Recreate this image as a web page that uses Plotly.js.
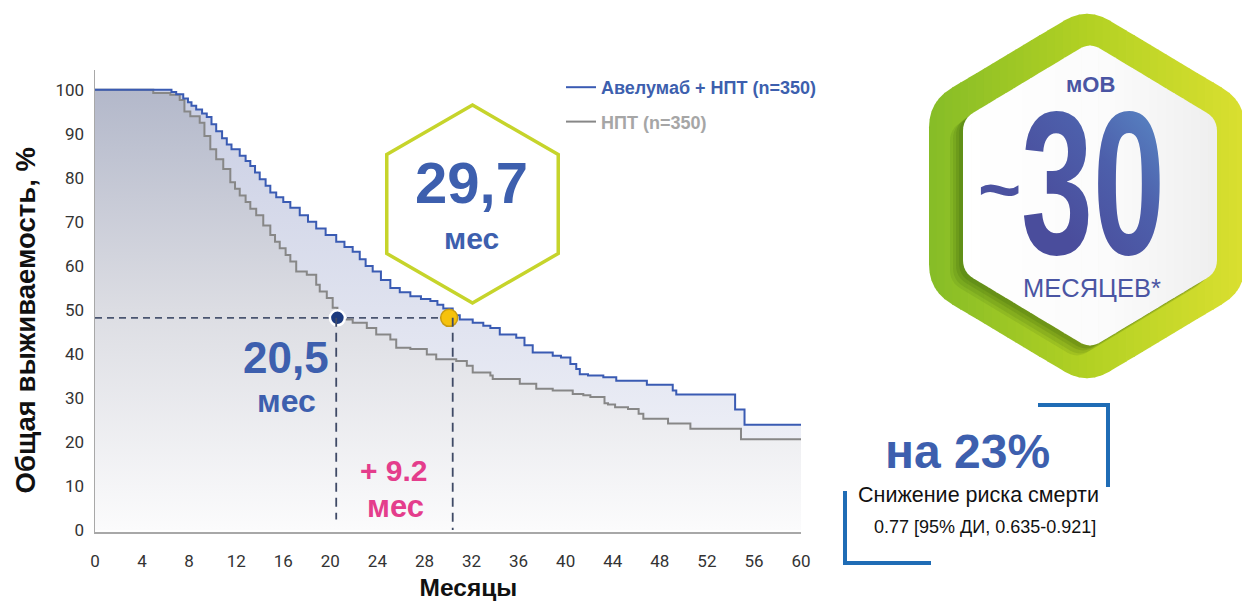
<!DOCTYPE html>
<html><head><meta charset="utf-8">
<script src="https://cdn.plot.ly/plotly-3.0.1.min.js"></script>
<style>html,body{margin:0;padding:0;background:#fff}#chart{width:1242px;height:602px}</style>
</head><body><div id="chart"></div>
<script>
// ---------- data ----------
const seriesNames = ['Авелумаб + НПТ (n=350)', 'НПТ (n=350)'];
const aveTime = [0,6.5,6.9,7.5,7.9,8.2,8.6,9.1,9.5,9.9,10.3,10.8,11.2,11.6,12.3,12.8,13.2,13.6,14.0,14.5,14.9,15.4,16.0,16.6,17.4,18.1,18.8,19.6,20.5,21.2,21.9,22.5,23.0,23.6,24.3,25.1,25.9,26.8,27.7,28.5,29.1,29.6,30.4,31.0,32.1,33.0,33.6,34.4,35.8,36.5,37.2,38.9,39.6,40.4,40.9,41.2,41.9,43.2,44.3,46.9,49.1,49.4,54.4,55.2,60];
const aveSurv = [100,99.5,99,98,97.2,96.4,95.5,94.6,93.8,92.2,90.6,89,87.6,86.5,85,83.8,82.7,81.2,79.7,78.2,76.7,75.6,74.5,73.2,71.5,70,68.5,67,65.5,64.3,63.2,61.5,60,58.7,56.8,55,54,53.1,52.5,52,51.2,50.3,48.8,47.8,47.1,46.4,45.9,44.4,43.7,42,40.3,39.6,39.2,37.7,36.6,35.4,35.1,34.7,33.9,33.0,31.7,30.8,27.4,23.9,23.9];
const bscTime = [0,4.95,6.4,7.2,7.6,8.1,8.9,9.3,9.8,10.3,10.9,11.5,11.9,12.3,12.8,13.2,13.7,14.3,14.9,15.3,15.7,16.2,16.6,17.1,18.0,18.8,19.1,19.7,20.2,20.6,21.1,21.9,23.1,23.9,25.1,25.6,26.8,28.2,29.0,30.7,31.6,32.1,33.6,33.8,36.1,37.5,38.9,40.6,41.5,42.1,43.3,43.6,44.2,45.3,46.2,46.6,48.7,50.6,54.9,60];
const bscSurv = [100,99.3,98.9,97.7,95.1,94,92.5,89.5,86.5,84.2,82,79,77.5,76,74.5,73,71.5,69.2,67,65.5,64,62.5,61,58.7,58,55.7,54.2,52.7,50.5,49,47.8,47.1,45.9,44.4,43.3,41.4,41.1,39.9,38.8,38.4,37.3,35.8,35.1,34.3,33.2,32.1,31.7,30.9,30.6,30.2,28.8,28.5,27.9,27.5,26.4,25.3,24.2,23.0,20.6,20.6];
const medianDotX = [20.6, 30.1];
const medianDropX = [20.5, 30.4];
const medianLevel = 48.2;
const xTicks = [0,4,8,12,16,20,24,28,32,36,40,44,48,52,56,60];
const yTicks = [0,10,20,30,40,50,60,70,80,90,100];
const medianLabels = ['29,7', '20,5', '+ 9.2'];

// ---------- geometry helpers (pixel -> paper) ----------
const L = 95, R = 801, T = 70, B = 532;
const px = x => (x - L) / (R - L);
const py = y => (B - y) / (B - T);
const P = (x, y) => px(x).toFixed(5) + ',' + py(y).toFixed(5);
function pathOf(pts) { return 'M ' + pts.map(p => P(p[0], p[1])).join(' L ') + ' Z'; }
// pointy-top hexagon; hw = half width, r = vertical radius
function hexVerts(cx, cy, r, hw) {
  const v = [], sx = (hw || r * Math.sqrt(3) / 2) / (r * Math.sqrt(3) / 2);
  for (let k = 0; k < 6; k++) { const a = (-90 + 60 * k) * Math.PI / 180; v.push([cx + r * Math.cos(a) * sx, cy + r * Math.sin(a)]); }
  return v;
}
function roundedHex(cx, cy, r, hw, rc) {
  const v = hexVerts(cx, cy, r, hw), pts = [];
  for (let i = 0; i < 6; i++) {
    const V = v[i], Pp = v[(i + 5) % 6], N = v[(i + 1) % 6];
    const lp = Math.hypot(Pp[0] - V[0], Pp[1] - V[1]), ln = Math.hypot(N[0] - V[0], N[1] - V[1]);
    const A = [V[0] + (Pp[0] - V[0]) * rc / lp, V[1] + (Pp[1] - V[1]) * rc / lp];
    const C = [V[0] + (N[0] - V[0]) * rc / ln, V[1] + (N[1] - V[1]) * rc / ln];
    for (let j = 0; j <= 6; j++) {
      const u = j / 6;
      pts.push([(1-u)*(1-u)*A[0] + 2*u*(1-u)*V[0] + u*u*C[0], (1-u)*(1-u)*A[1] + 2*u*(1-u)*V[1] + u*u*C[1]]);
    }
  }
  return pts;
}
function clip(poly, x0, greater) {
  const out = [];
  const inside = p => greater ? p[0] >= x0 : p[0] <= x0;
  for (let i = 0; i < poly.length; i++) {
    const a = poly[i], b = poly[(i + 1) % poly.length];
    const ia = inside(a), ib = inside(b);
    if (ia) out.push(a);
    if (ia !== ib) { const t = (x0 - a[0]) / (b[0] - a[0]); out.push([x0, a[1] + t * (b[1] - a[1])]); }
  }
  return out;
}
function hexToRgb(h) { return [1,3,5].map(i => parseInt(h.substr(i, 2), 16)); }
function mix(stops, f) {
  for (let i = 0; i < stops.length - 1; i++) {
    const [f0, c0] = stops[i], [f1, c1] = stops[i + 1];
    if (f <= f1) { const t = (f - f0) / (f1 - f0); const a = hexToRgb(c0), b = hexToRgb(c1);
      return 'rgb(' + a.map((v, k) => Math.round(v + (b[k] - v) * t)).join(',') + ')'; }
  }
  return stops[stops.length - 1][1];
}
function gradientHex(cx, cy, r, hw, rc, stops, n) {
  const poly = roundedHex(cx, cy, r, hw, rc), x0 = cx - hw, w = 2 * hw / n, res = [];
  for (let i = 0; i < n; i++) {
    let p = clip(poly, x0 + i * w - 0.4, true);
    p = clip(p, x0 + (i + 1) * w + 0.4, false);
    if (p.length > 2) res.push({type: 'path', xref: 'paper', yref: 'paper', path: pathOf(p), fillcolor: mix(stops, (i + 0.5) / n), line: {width: 0}, layer: 'above'});
  }
  return res;
}

// ---------- traces ----------
const traces = [
  {x: bscTime, y: bscSurv, mode: 'lines', line: {shape: 'hv', width: 0}, fill: 'tozeroy',
   fillgradient: {type: 'vertical', colorscale: [[0, '#fbfbfc'], [0.5, '#dcdde3'], [1, '#b3b8ca']]},
   showlegend: false, hoverinfo: 'skip'},
  {x: aveTime, y: aveSurv, mode: 'lines', line: {shape: 'hv', width: 0}, fill: 'tonexty',
   fillgradient: {type: 'vertical', colorscale: [[0, '#eceef6'], [1, '#c9cee3']]},
   showlegend: false, hoverinfo: 'skip'},
  {x: [0, medianDotX[1]], y: [medianLevel, medianLevel], mode: 'lines', line: {color: '#4a5570', width: 1.6, dash: '7px,5px'}, showlegend: false, hoverinfo: 'skip'},
  {x: bscTime, y: bscSurv, mode: 'lines', name: '<b><span style="color:#a6a6a6">' + seriesNames[1] + '</span></b>',
   line: {shape: 'hv', color: '#878787', width: 2}, legendrank: 2, legendgroup: 'bsc', hoverinfo: 'skip'},
  {x: aveTime, y: aveSurv, mode: 'lines', name: '<b><span style="color:#3d5fae">' + seriesNames[0] + '</span></b>',
   line: {shape: 'hv', color: '#3a5bb3', width: 2}, legendrank: 1, legendgroup: 'ave', hoverinfo: 'skip'},
  {x: medianDotX, y: [medianLevel, medianLevel], mode: 'markers', showlegend: false, hoverinfo: 'skip',
   marker: {size: [15, 17], color: ['#1c3a7e', '#f6c20c'], opacity: 1, line: {color: ['#ffffff', '#c99c10'], width: [2.5, 1.5]}}},
  {x: [medianDropX[0], medianDropX[0]], y: [medianLevel, 2.4], mode: 'lines', line: {color: '#3f4a66', width: 1.8, dash: '9px,6px'}, showlegend: false, hoverinfo: 'skip'},
  {x: [medianDropX[1], medianDropX[1]], y: [medianLevel, 0], mode: 'lines', line: {color: '#3f4a66', width: 1.8, dash: '9px,6px'}, showlegend: false, hoverinfo: 'skip'}
];

// ---------- shapes ----------
const shapes = [];
// small hexagon around 29,7
shapes.push({type: 'path', xref: 'paper', yref: 'paper', path: pathOf(hexVerts(472.5, 204, 99)), line: {color: '#c6d42b', width: 3.5}, fillcolor: 'rgba(255,255,255,0)', layer: 'above'});
// big badge
gradientHex(1087, 196, 189, 158, 26, [[0, '#86bc27'], [0.5, '#b2d123'], [1, '#dadf30']], 40).forEach(s => shapes.push(s));
[[-13, 10, 0.10], [-10, 8, 0.12], [-7, 5, 0.14], [-4, 3, 0.16]].forEach(([dx, dy, o]) =>
  shapes.push({type: 'path', xref: 'paper', yref: 'paper', path: pathOf(roundedHex(1090 + dx, 195.5 + dy, 153, 127, 12)), fillcolor: 'rgba(40,80,10,' + o + ')', line: {width: 0}, layer: 'above'}));
gradientHex(1090, 195.5, 153, 127, 12, [[0, '#ffffff'], [0.6, '#fbfbfb'], [1, '#eeeeee']], 30).forEach(s => shapes.push(s));
// brackets
shapes.push({type: 'path', xref: 'paper', yref: 'paper', path: 'M ' + P(1038, 405) + ' L ' + P(1108, 405) + ' L ' + P(1108, 487), line: {color: '#1f6cb5', width: 4}, layer: 'above'});
shapes.push({type: 'path', xref: 'paper', yref: 'paper', path: 'M ' + P(845, 491) + ' L ' + P(845, 563) + ' L ' + P(931, 563), line: {color: '#1f6cb5', width: 4}, layer: 'above'});

// ---------- annotations ----------
const SANS = 'Liberation Sans, Arial, sans-serif';
function ann(text, x, y, size, color, bold, family) {
  return {xref: 'paper', yref: 'paper', x: px(x), y: py(y), xanchor: 'center', yanchor: 'middle', showarrow: false,
    text: bold ? '<b>' + text + '</b>' : text, font: {family: family || SANS, size: size, color: color}};
}
const BLUE = '#3d5fae', PINK = '#e43d8c', BADGE = '#4a55a3';
const annotations = [
  ann(medianLabels[0], 471, 182, 58, BLUE, true),
  ann('мес', 471, 238, 30, BLUE, true),
  ann(medianLabels[1], 286, 357, 44, BLUE, true),
  ann('мес', 286, 401, 32, BLUE, true),
  ann(medianLabels[2], 394, 470, 30, PINK, true),
  ann('мес', 395, 506, 31, PINK, true),
  ann('мОВ', 1090, 85, 22, BADGE, true),
  ann('~', 999, 189, 74, '#4b52a0', true),
  ann('30', 1093, 182, 205, '#4c57a5', true, 'Liberation Sans Narrow, Liberation Sans, Arial, sans-serif'),
  ann('МЕСЯЦЕВ*', 1092, 288, 25.5, BADGE, false),
  ann('на 23%', 967, 451, 48, BLUE, true),
  ann('Снижение риска смерти', 979, 495, 21.5, '#111111', false),
  ann('0.77 [95% ДИ, 0.635-0.921]', 985, 527, 18, '#111111', false)
];

const GHOST = s => '<span style="color:rgba(255,255,255,0)">' + s + '</span>';
const layout = {
  width: 1242, height: 602,
  margin: {l: L, r: 1242 - R, t: T, b: 602 - B, pad: 0},
  paper_bgcolor: '#ffffff', plot_bgcolor: 'rgba(0,0,0,0)',
  showlegend: true,
  legend: {x: px(561), y: py(69), xanchor: 'left', yanchor: 'top', bgcolor: 'rgba(0,0,0,0)', itemwidth: 30,
    font: {family: SANS, size: 18, color: '#3d5fae'}, traceorder: 'grouped', tracegroupgap: 8},
  xaxis: {range: [0, 60], tickvals: xTicks, ticktext: xTicks.map(String), showgrid: false, zeroline: false,
    showline: true, linecolor: '#a8a8a8', linewidth: 1.5, ticks: '', ticklabelstandoff: 13,
    tickfont: {family: 'Roboto, sans-serif', size: 17, color: '#333333'},
    title: {text: '<b>' + GHOST('ММ') + 'Месяцы</b>', font: {family: SANS, size: 24.5, color: '#111111'}, standoff: 9}},
  yaxis: {range: [-0.45, 104.5], tickvals: yTicks, ticktext: yTicks.map(String), showgrid: false, zeroline: false,
    showline: true, linecolor: '#a8a8a8', linewidth: 1.5, ticks: '', ticklabelstandoff: 6,
    tickfont: {family: 'Roboto, sans-serif', size: 17, color: '#333333'},
    title: {text: '<b>Общая выживаемость, %' + GHOST('Ма') + '</b>', font: {family: SANS, size: 27.5, color: '#111111'}, standoff: 12}},
  shapes: shapes,
  annotations: annotations
};

Plotly.newPlot('chart', traces, layout, {displayModeBar: false, staticPlot: true}).then(gd => {
  // narrow the big "30" to the condensed look and give it the badge gradient
  const svg = gd.querySelector('svg.main-svg');
  const defs = svg.querySelector('defs') || svg.insertBefore(document.createElementNS('http://www.w3.org/2000/svg', 'defs'), svg.firstChild);
  const g = document.createElementNS('http://www.w3.org/2000/svg', 'linearGradient');
  g.setAttribute('id', 'grad30'); g.setAttribute('x1', '0.9'); g.setAttribute('y1', '0'); g.setAttribute('x2', '0.35'); g.setAttribute('y2', '0.75');
  [['0', '#5b8fca'], ['0.55', '#4d5fab'], ['1', '#4a4d9c']].forEach(([o, c]) => {
    const s = document.createElementNS('http://www.w3.org/2000/svg', 'stop'); s.setAttribute('offset', o); s.setAttribute('stop-color', c); g.appendChild(s);
  });
  defs.appendChild(g);
  gd.querySelectorAll('.annotation-text').forEach(t => {
    if (t.textContent === '30') {
      const bb = t.getBBox(), cx = bb.x + bb.width / 2, k = 144 / bb.width;
      t.setAttribute('transform', 'translate(' + cx + ',0) scale(' + k.toFixed(3) + ',1) translate(' + (-cx) + ',0)');
      t.style.fill = 'url(#grad30)';
    }
  });
});
</script>
</body></html>
